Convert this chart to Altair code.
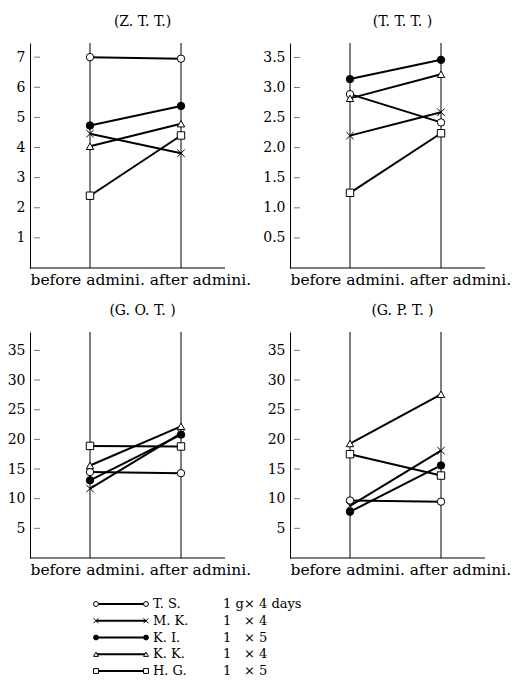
import altair as alt
import pandas as pd

# ---- data -------------------------------------------------------------
names = ["T. S.", "M. K.", "K. I.", "K. K.", "H. G."]
amounts = ["1 g", "1", "1", "1", "1"]
times = ["× 4 days", "× 4", "× 5", "× 4", "× 5"]
phases = ["before", "after"]

ztt_before = [7.0, 4.46, 4.73, 4.04, 2.4]
ztt_after = [6.95, 3.81, 5.38, 4.79, 4.4]

ttt_before = [2.89, 2.2, 3.14, 2.82, 1.25]
ttt_after = [2.42, 2.59, 3.46, 3.22, 2.24]

got_before = [14.5, 11.7, 13.1, 15.6, 18.9]
got_after = [14.3, 21.0, 20.8, 22.2, 18.8]

gpt_before = [9.7, 8.8, 7.8, 19.3, 17.5]
gpt_after = [9.5, 18.1, 15.6, 27.6, 13.9]

ztt_ticks = [1, 2, 3, 4, 5, 6, 7]
ttt_ticks = [0.5, 1.0, 1.5, 2.0, 2.5, 3.0, 3.5]
enz_ticks = [5, 10, 15, 20, 25, 30, 35]

# ---- styling ----------------------------------------------------------
SERIF = "DejaVu Serif"
W = 195
shape_range = ["circle", "M-1,-1L1,1M1,-1L-1,1", "circle", "triangle-up", "square"]
fill_range = ["white", "white", "black", "white", "white"]
shape_scale = alt.Scale(domain=names, range=shape_range)
fill_scale = alt.Scale(domain=names, range=fill_range)


def long_df(before, after):
    rows = []
    for n, b, a in zip(names, before, after):
        rows.append({"name": n, "phase": "before", "value": b})
        rows.append({"name": n, "phase": "after", "value": a})
    return pd.DataFrame(rows)


def panel(title, before, after, ymax, tick_vals, fmt, height):
    df = long_df(before, after)
    xs = alt.Scale(type="point", domain=phases, range=[60, 151], padding=0)
    ys = alt.Scale(domain=[0, ymax], nice=False, zero=True)
    x_axis = alt.Axis(
        title="before admini. after admini.", domain=False, ticks=False,
        labels=False, grid=False, titleX=0, titleY=4, titleAlign="left",
        titleBaseline="top", titleFont=SERIF, titleFontSize=15.5,
        titleFontWeight="normal", titleColor="black",
    )
    y_axis = alt.Axis(
        values=tick_vals, format=fmt, ticks=False, grid=False,
        domainColor="black", domainWidth=1, labelFont=SERIF,
        labelFontSize=14, labelColor="black", labelPadding=5, title=None,
    )
    X = alt.X("phase:N", scale=xs, axis=x_axis)
    Y = alt.Y("value:Q", scale=ys, axis=y_axis)

    vrules = alt.Chart(pd.DataFrame({"phase": phases})).mark_rule(
        color="black", strokeWidth=1
    ).encode(x=X, y=alt.value(0), y2=alt.value(height))
    baseline = alt.Chart(pd.DataFrame({"value": [0]})).mark_rule(
        color="black", strokeWidth=1
    ).encode(y=Y, x=alt.value(0), x2=alt.value(W))
    ticks = alt.Chart(pd.DataFrame({"value": tick_vals})).mark_rule(
        color="#777", strokeWidth=1
    ).encode(y=Y, x=alt.value(4), x2=alt.value(10))
    base = alt.Chart(df)
    lines = base.mark_line(color="black", strokeWidth=2).encode(
        x=X, y=Y, detail="name:N"
    )
    pts = base.mark_point(
        filled=True, size=55, stroke="black", strokeWidth=1, opacity=1
    ).encode(
        x=X, y=Y,
        shape=alt.Shape("name:N", scale=shape_scale, legend=None),
        fill=alt.Fill("name:N", scale=fill_scale, legend=None),
    )
    return alt.layer(vrules, baseline, ticks, lines, pts).properties(
        width=W, height=height,
        title=alt.TitleParams(
            title, font=SERIF, fontSize=14, fontWeight="normal",
            color="black", anchor="middle", dx=15, offset=14,
        ),
    )


p1 = panel("(Z. T. T.)", ztt_before, ztt_after, 7.47, ztt_ticks, "d", 225)
p2 = panel("(T. T. T. )", ttt_before, ttt_after, 3.74, ttt_ticks, ".1f", 225)
p3 = panel("(G. O. T. )", got_before, got_after, 38.1, enz_ticks, "d", 226)
p4 = panel("(G. P. T. )", gpt_before, gpt_after, 38.1, enz_ticks, "d", 226)

# ---- legend -----------------------------------------------------------
leg_df = pd.DataFrame({"name": names, "amount": amounts, "times": times})
YL = alt.Y(
    "name:N",
    scale=alt.Scale(type="point", domain=names, range=[-18, 49], padding=0),
    axis=None,
)
lb = alt.Chart(leg_df)
lrule = lb.mark_rule(color="black", strokeWidth=2).encode(
    y=YL, x=alt.value(66), x2=alt.value(116)
)


def lpts(xpos):
    return lb.mark_point(
        filled=True, size=24, stroke="black", strokeWidth=1, opacity=1
    ).encode(
        y=YL, x=alt.value(xpos),
        shape=alt.Shape("name:N", scale=shape_scale, legend=None),
        fill=alt.Fill("name:N", scale=fill_scale, legend=None),
    )


def ltext(field, xpos):
    return lb.mark_text(
        align="left", baseline="middle", font=SERIF, fontSize=13, color="black"
    ).encode(y=YL, x=alt.value(xpos), text=f"{field}:N")


legend = alt.layer(
    lrule, lpts(66), lpts(116), ltext("name", 123), ltext("amount", 193),
    ltext("times", 214)
).properties(width=W, height=50)

chart = alt.concat(
    p1, p2, p3, p4, legend, columns=2, bounds="flush",
    spacing={"row": 64, "column": 65},
).properties(
    padding={"left": 7, "top": 14, "right": 5, "bottom": 5},
    background="white",
).configure_view(stroke="transparent", strokeWidth=0)

chart.save("out.html", embed_options={"renderer": "svg", "actions": False})
